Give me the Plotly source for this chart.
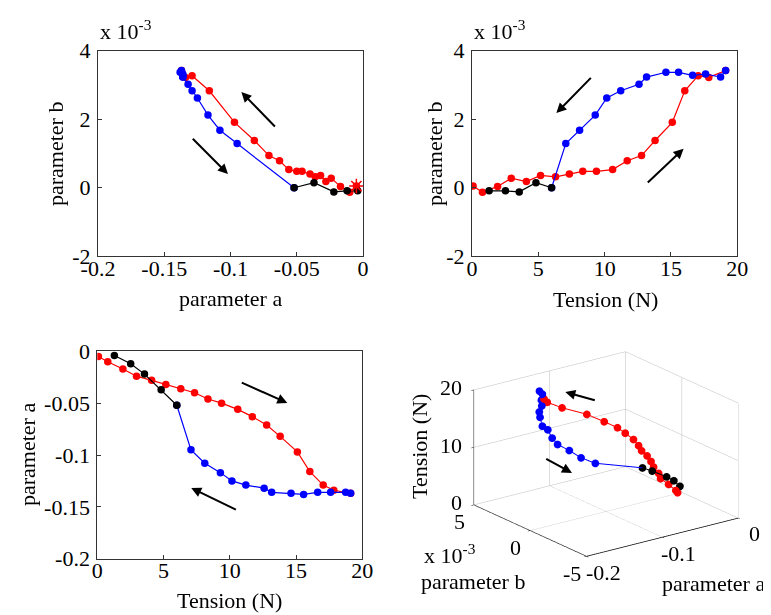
import plotly.graph_objects as go

# ---------------- data ----------------
# loading branch (red)
T_red = [0.08, 0.79, 1.93, 2.96, 4.10, 5.17, 6.30, 7.34, 8.35, 9.38, 10.60,
         11.70, 12.78, 13.80, 15.10, 16.04, 17.05, 17.85, 19.12]
a_red = [-0.005, -0.010, -0.017, -0.024, -0.028, -0.032, -0.036, -0.040, -0.046,
         -0.050, -0.056, -0.063, -0.071, -0.082, -0.097, -0.116, -0.129, -0.134, -0.137]
b_red = [0.05, -0.13, 0.04, 0.28, 0.18, 0.36, 0.32, 0.40, 0.48, 0.48, 0.53,
         0.79, 0.94, 1.38, 1.91, 2.83, 3.27, 3.22, 3.42]          # x 1e-3

# unloading branch (blue)
T_blue = [19.12, 18.74, 17.61, 16.63, 15.57, 14.62, 13.16, 12.59, 11.21,
          10.16, 9.29, 8.11, 7.07, 6.00]
a_blue = [-0.137, -0.136, -0.136, -0.136, -0.138, -0.137, -0.136, -0.132,
          -0.129, -0.125, -0.117, -0.108, -0.095, -0.052]
b_blue = [3.42, 3.23, 3.32, 3.28, 3.37, 3.37, 3.23, 3.02, 2.83, 2.62, 2.12,
          1.68, 1.29, 0.00]                                           # x 1e-3

# final unloading (black)
T_black = [6.00, 4.82, 3.56, 2.52, 1.29]
a_black = [-0.052, -0.037, -0.022, -0.012, -0.004]
b_black = [0.00, 0.15, -0.12, -0.09, -0.09]                           # x 1e-3

# tick values / labels
ticks_a = [-0.2, -0.15, -0.1, -0.05, 0]
ticklabels_a = ["-0.2", "-0.15", "-0.1", "-0.05", "0"]
ticks_b = [-2, 0, 2, 4]
ticklabels_b = ["-2", "0", "2", "4"]
ticks_T = [0, 5, 10, 15, 20]
ticks_a_3d = [-0.2, -0.1, 0]
ticklabels_a_3d = ["-0.2", "-0.1", "0"]
ticks_b_3d = [-5, 0, 5]
ticklabels_b_3d = ["-5", "0", "5"]
ticks_T_3d = [0, 10, 20]
ticklabels_T_3d = ["0", "10", "20"]

# ---------------- styling ----------------
FONT = "Liberation Serif, Times New Roman, Tinos, Nimbus Roman, FreeSerif, serif"
FS = 22
AX = "#333333"
MS = 7.5
W, H = 771, 615

fig = go.Figure()

def series(x, y, color, xa, ya):
    fig.add_trace(go.Scatter(x=x, y=y, mode="lines+markers",
                             line=dict(color=color, width=1.2),
                             marker=dict(color=color, size=MS),
                             xaxis=xa, yaxis=ya, showlegend=False))

# panel 1: b vs a
series(a_red, b_red, "#ff0000", "x", "y")
series(a_blue, b_blue, "#0000ff", "x", "y")
series(a_black, b_black, "#000000", "x", "y")
fig.add_trace(go.Scatter(x=a_red[:1], y=b_red[:1], mode="markers",
                         marker=dict(symbol="asterisk-open", size=12, color="#ff0000",
                                     line=dict(color="#ff0000", width=1.5)),
                         xaxis="x", yaxis="y", showlegend=False))
# panel 2: b vs T
series(T_red, b_red, "#ff0000", "x2", "y2")
series(T_blue, b_blue, "#0000ff", "x2", "y2")
series(T_black, b_black, "#000000", "x2", "y2")
# panel 3: a vs T
series(T_red, a_red, "#ff0000", "x3", "y3")
series(T_blue, a_blue, "#0000ff", "x3", "y3")
series(T_black, a_black, "#000000", "x3", "y3")

# panel 4: 3D
for a, b, T, c in [(a_red, b_red, T_red, "#ff0000"),
                   (a_blue, b_blue, T_blue, "#0000ff"),
                   (a_black, b_black, T_black, "#000000")]:
    fig.add_trace(go.Scatter3d(x=a, y=b, z=T, mode="lines+markers",
                               line=dict(color=c, width=2),
                               marker=dict(color=c, size=4.5),
                               scene="scene", showlegend=False))

def px(xp):
    return xp / W

def py(yp):
    return 1 - yp / H

ax_common = dict(showline=True, mirror=True, linecolor=AX, linewidth=1,
                 ticks="inside", ticklen=4, tickcolor=AX, showgrid=False,
                 zeroline=False, tickfont=dict(family=FONT, size=FS, color="#000"),
                 automargin=False)
xstand = dict(ticklabelstandoff=-8)
ystand = dict(ticklabelstandoff=2)

fig.update_layout(
    width=W, height=H, margin=dict(l=0, r=0, t=0, b=0),
    paper_bgcolor="white", plot_bgcolor="white",
    font=dict(family=FONT, size=FS, color="#000"),
    xaxis=dict(domain=[px(90), px(355)], range=[-0.2, 0], tickvals=ticks_a,
               ticktext=ticklabels_a, anchor="y", **xstand, **ax_common),
    yaxis=dict(domain=[py(248.3), py(42.7)], range=[-2, 4], tickvals=ticks_b,
               ticktext=ticklabels_b, anchor="x", **ystand, **ax_common),
    xaxis2=dict(domain=[px(464), px(729.3)], range=[0, 20], tickvals=ticks_T,
                anchor="y2", **xstand, **ax_common),
    yaxis2=dict(domain=[py(248.3), py(42.7)], range=[-2, 4], tickvals=ticks_b,
                ticktext=ticklabels_b, anchor="x2", **ystand, **ax_common),
    xaxis3=dict(domain=[px(89.3), px(354.3)], range=[0, 20], tickvals=ticks_T,
                anchor="y3", **xstand, **ax_common),
    yaxis3=dict(domain=[py(550.7), py(343.3)], range=[-0.2, 0], tickvals=ticks_a,
                ticktext=ticklabels_a, anchor="x3", **ystand, **ax_common),
)

ax3d = dict(showbackground=False, showgrid=True, gridcolor="#bdbdbd", gridwidth=1,
            showline=True, linecolor="#000", linewidth=1.5, zeroline=False,
            showspikes=False, ticks="outside", ticklen=3, tickcolor="#000",
            showticklabels=False, title=dict(text=""))

tickfont3d = dict(family=FONT, size=FS, color="#000")
scene_ann = []
for v, t in zip(ticks_T_3d, ticklabels_T_3d):
    scene_ann.append(dict(x=-0.2, y=5, z=v, text=t, showarrow=False, xanchor="right",
                          xshift=-9, yshift=2, font=tickfont3d))
for v, t in zip(ticks_b_3d, ticklabels_b_3d):
    scene_ann.append(dict(x=-0.2, y=v, z=0, text=t, showarrow=False,
                          xshift=-14, yshift=-17, font=tickfont3d))
for v, t in zip(ticks_a_3d, ticklabels_a_3d):
    scene_ann.append(dict(x=v, y=-5, z=0, text=t, showarrow=False,
                          xshift=17, yshift=-16, font=tickfont3d))

fig.update_layout(scene=dict(
    domain=dict(x=[px(427.5), px(767.5)], y=[py(585.8), py(305.8)]),
    xaxis=dict(range=[-0.2, 0], tickvals=ticks_a_3d, **ax3d),
    yaxis=dict(range=[-5, 5], tickvals=ticks_b_3d, **ax3d),
    zaxis=dict(range=[0, 20], tickvals=ticks_T_3d, **{**ax3d, "linecolor": "#666"}),
    aspectmode="manual", aspectratio=dict(x=1.35, y=1.35, z=0.873),
    camera=dict(eye=dict(x=-0.847, y=-1.140, z=0.512), up=dict(x=0, y=0, z=1),
                center=dict(x=0, y=0, z=0), projection=dict(type="orthographic")),
    annotations=scene_ann,
))

ann = []
def label(x, y, text, angle=0):
    ann.append(dict(x=px(x), y=py(y), xref="paper", yref="paper", showarrow=False,
                    text=text, textangle=angle, xanchor="center", yanchor="middle",
                    font=dict(family=FONT, size=FS, color="#000")))

# axis titles
label(222.5, 290, "parameter a")
label(47, 146, "parameter b", -90)
label(597, 291, "Tension (N)")
label(426, 146, "parameter b", -90)
label(222, 592, "Tension (N)")
label(19, 447, "parameter a", -90)
label(465, 573, "parameter b")
label(705, 575, "parameter a")
label(411, 439, "Tension (N)", -90)

# x 10^-3 exponent labels
for xp_, yp_ in [(90, 38), (464, 38)]:
    ann.append(dict(x=px(xp_), y=py(yp_), xref="paper", yref="paper", xanchor="left",
                    yanchor="bottom", showarrow=False, text="x 10<sup>-3</sup>",
                    font=dict(family=FONT, size=FS)))
label(442, 546, "x 10<sup>-3</sup>")

arrow = dict(text="", showarrow=True, arrowhead=2, arrowsize=1, arrowwidth=2,
             arrowcolor="#000")
# panel 1 arrows (head x,y ; tail ax,ay in data units)
ann.append(dict(x=-0.0918, y=2.795, ax=-0.0654, ay=1.744, xref="x", yref="y",
                axref="x", ayref="y", **arrow))
ann.append(dict(x=-0.1019, y=0.401, ax=-0.1296, ay=1.472, xref="x", yref="y",
                axref="x", ayref="y", **arrow))
# panel 2 arrows
ann.append(dict(x=6.36, y=2.18, ax=9.07, ay=3.25, xref="x2", yref="y2",
                axref="x2", ayref="y2", **arrow))
ann.append(dict(x=15.95, y=1.14, ax=13.14, ay=0.11, xref="x2", yref="y2",
                axref="x2", ayref="y2", **arrow))
# panel 3 arrows
ann.append(dict(x=14.34, y=-0.0498, ax=10.79, ay=-0.0296, xref="x3", yref="y3",
                axref="x3", ayref="y3", **arrow))
ann.append(dict(x=7.09, y=-0.1318, ax=10.57, ay=-0.1534, xref="x3", yref="y3",
                axref="x3", ayref="y3", **arrow))
# panel 4 arrows (paper)
ann.append(dict(x=px(557.3), y=py(384), ax=31, ay=8.7, xref="paper", yref="paper", **arrow))
ann.append(dict(x=px(564), y=py(465), ax=-27.3, ay=-15, xref="paper", yref="paper", **arrow))

fig.update_layout(annotations=ann)
fig.write_html("out.html")
